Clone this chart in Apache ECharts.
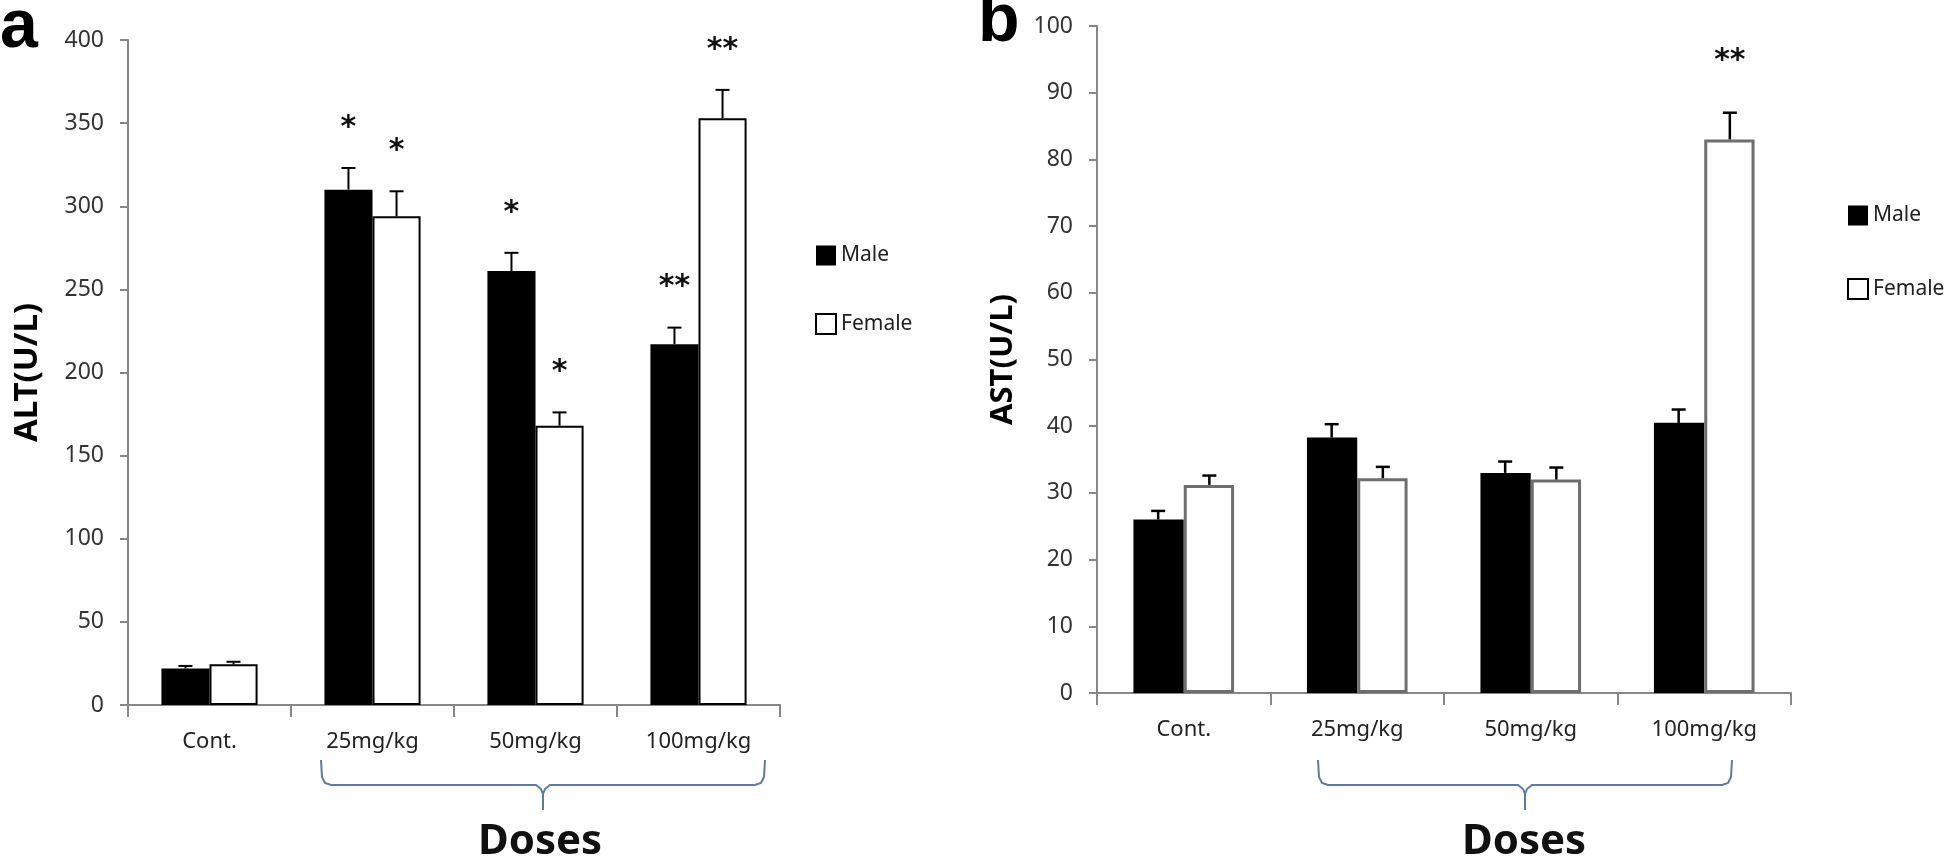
<!DOCTYPE html>
<html><head><meta charset="utf-8">
<script src="https://cdn.jsdelivr.net/npm/echarts@6/dist/echarts.min.js"></script>
<style>html,body{margin:0;padding:0;background:#fff}#c{width:1946px;height:859px}</style>
</head><body><div id="c"></div>
<script>
// ---------- data ----------
const categories = ['Cont.', '25mg/kg', '50mg/kg', '100mg/kg'];
const altMale = [22, 310, 261, 217];
const altMaleErr = [1.5, 13, 11, 10];
const altFemale = [24.5, 294, 168, 353];
const altFemaleErr = [1.5, 15, 8, 17];
const altMaleStars = ['', '*', '*', '**'];
const altFemaleStars = ['', '*', '*', '**'];
const astMale = [26, 38.3, 33, 40.5];
const astMaleErr = [1.3, 2, 1.7, 2];
const astFemale = [31.2, 32.2, 32, 83];
const astFemaleErr = [1.4, 1.7, 1.8, 4];
const astMaleStars = ['', '', '', ''];
const astFemaleStars = ['', '', '', '**'];
const altTicks = [0, 400, 50];
const astTicks = [0, 100, 10];

// ---------- chart ----------
const FONT = '"Noto Sans", "DejaVu Sans", sans-serif';
const GAP = 0.41;
const chart = echarts.init(document.getElementById('c'), null, {renderer: 'canvas'});

function errSeries(name, xi, values, errs, stars, side, opts) {
  return {
    type: 'custom', name, xAxisIndex: xi, yAxisIndex: xi, z: 5, silent: true,
    data: values.map((v, i) => [i, v, errs[i]]),
    renderItem(params, api) {
      const i = api.value(0), v = api.value(1), e = api.value(2);
      const cw = api.size([1, 0])[0];
      const bw = cw * (1 - GAP) / 2;
      const p0 = api.coord([i, v]);
      const p1 = api.coord([i, v + e]);
      const x = p0[0] + side * bw / 2;
      const st = {stroke: '#000', lineWidth: opts.lw};
      const children = [
        {type: 'line', shape: {x1: x, y1: p0[1], x2: x, y2: p1[1]}, style: st},
        {type: 'line', shape: {x1: x - opts.cap / 2, y1: p1[1], x2: x + opts.cap / 2, y2: p1[1]}, style: st}
      ];
      const s = stars[params.dataIndex];
      if (s) children.push({type: 'text', style: {text: s, x: x, y: p1[1] - opts.starGap, align: 'center', verticalAlign: 'middle', font: 'bold 30px "DejaVu Sans"', fill: '#111'}});
      return {type: 'group', children};
    }
  };
}

function yAxis(gi, t, name, gap, nameSize) {
  return {
    type: 'value', gridIndex: gi, min: t[0], max: t[1], interval: t[2],
    name, nameLocation: 'middle', nameGap: gap,
    nameTextStyle: {fontSize: nameSize, fontWeight: 'bold', fontFamily: FONT, color: '#000'},
    axisLine: {show: true, lineStyle: {color: '#868686', width: 2}},
    axisTick: {show: true, length: 8, lineStyle: {color: '#868686', width: 2}},
    splitLine: {show: false},
    axisLabel: {fontSize: 23, fontFamily: FONT, color: '#333', margin: 24}
  };
}
function xAxis(gi) {
  return {
    type: 'category', gridIndex: gi, data: categories,
    axisLine: {lineStyle: {color: '#868686', width: 2}},
    axisTick: {show: true, length: 12, alignWithLabel: false, lineStyle: {color: '#868686', width: 2}},
    axisLabel: {fontSize: 22, fontFamily: FONT, color: '#222', margin: 26}
  };
}
const legendBase = {
  data: ['Male', 'Female'], orient: 'vertical', icon: 'rect', itemWidth: 20, itemHeight: 20,
  selectedMode: false, textStyle: {fontSize: 21, fontFamily: FONT, color: '#222'}
};

function brace(x1, x2, yTop, yMid, yTip, color) {
  const m = (x1 + x2) / 2;
  const st = {stroke: color, lineWidth: 2, fill: null};
  return [
    {type: 'polyline', silent: true, shape: {points: [[x1, yTop], [x1 + 1, yMid - 8], [x1 + 4, yMid - 2], [x1 + 10, yMid], [m - 7, yMid], [m - 2, yMid + 4], [m, yMid + 9], [m, yTip]]}, style: st},
    {type: 'polyline', silent: true, shape: {points: [[m, yMid + 9], [m + 2, yMid + 4], [m + 7, yMid], [x2 - 10, yMid], [x2 - 4, yMid - 2], [x2 - 1, yMid - 8], [x2, yTop]]}, style: st}
  ];
}

const option = {
  backgroundColor: '#fff',
  animation: false,
  grid: [
    {left: 128, top: 40, width: 652, height: 665},
    {left: 1097, top: 26, width: 694, height: 667}
  ],
  xAxis: [xAxis(0), xAxis(1)],
  yAxis: [yAxis(0, altTicks, 'ALT(U/L)', 84, 33), yAxis(1, astTicks, 'AST(U/L)', 78, 31)],
  legend: [
    Object.assign({}, legendBase, {left: 810, top: 240, itemGap: 47}),
    Object.assign({}, legendBase, {left: 1842, top: 200, itemGap: 52})
  ],
  series: [
    {type: 'bar', name: 'Male', xAxisIndex: 0, yAxisIndex: 0, data: altMale, barGap: '0%', barCategoryGap: '41%', itemStyle: {color: '#000'}},
    {type: 'bar', name: 'Female', xAxisIndex: 0, yAxisIndex: 0, data: altFemale, barGap: '0%', barCategoryGap: '41%', itemStyle: {color: '#fff', borderColor: '#000', borderWidth: 2}},
    {type: 'bar', name: 'Male', xAxisIndex: 1, yAxisIndex: 1, data: astMale, barGap: '0%', barCategoryGap: '42%', itemStyle: {color: '#000'}},
    {type: 'bar', name: 'Female', xAxisIndex: 1, yAxisIndex: 1, data: astFemale, barGap: '0%', barCategoryGap: '42%', itemStyle: {color: '#fff', borderColor: '#6e6e6e', borderWidth: 3}},
    errSeries('eM1', 0, altMale, altMaleErr, altMaleStars, -1, {lw: 2, cap: 14, starGap: 40}),
    errSeries('eF1', 0, altFemale, altFemaleErr, altFemaleStars, 1, {lw: 2, cap: 14, starGap: 40}),
    errSeries('eM2', 1, astMale, astMaleErr, astMaleStars, -1, {lw: 2.5, cap: 14, starGap: 52}),
    errSeries('eF2', 1, astFemale, astFemaleErr, astFemaleStars, 1, {lw: 2.5, cap: 14, starGap: 52})
  ],
  graphic: [
    {type: 'text', x: 0, y: -6, style: {text: 'a', font: 'bold 68px "Liberation Sans"', fill: '#000'}},
    {type: 'text', x: 978, y: -12, style: {text: 'b', font: 'bold 68px "Liberation Sans"', fill: '#000'}},
    ...brace(321, 765, 760, 785, 810, '#5a7ca6'),
    ...brace(1318, 1732, 760, 785, 810, '#5a7ca6'),
    {type: 'text', x: 540, y: 842, style: {text: 'Doses', font: 'bold 42px "Noto Sans"', fill: '#111', align: 'center', verticalAlign: 'middle'}},
    {type: 'text', x: 1524, y: 842, style: {text: 'Doses', font: 'bold 42px "Noto Sans"', fill: '#111', align: 'center', verticalAlign: 'middle'}}
  ]
};
chart.setOption(option);
</script>
</body></html>
